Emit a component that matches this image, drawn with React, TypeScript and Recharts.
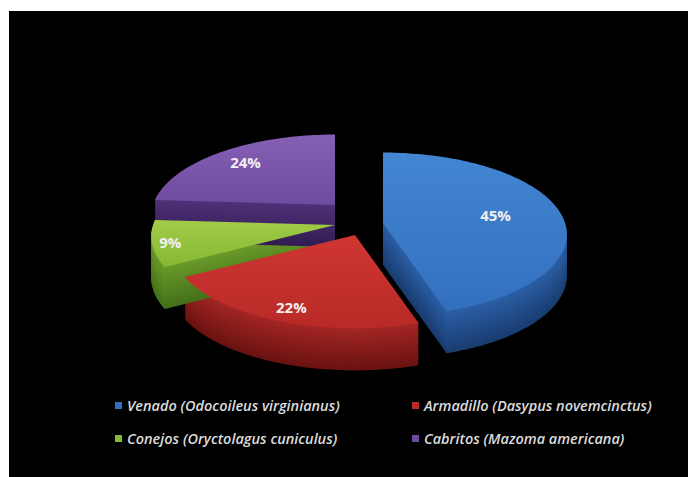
import { Legend, Pie, PieChart } from "recharts";

const species = [
  "Venado (Odocoileus virginianus)",
  "Armadillo (Dasypus novemcinctus)",
  "Conejos (Oryctolagus cuniculus)",
  "Cabritos (Mazoma americana)",
];
const shares = [45, 22, 9, 24];

// colours: top face (light, dark) and wall (top, bottom)
const topLight = ["#4386d2", "#cf3632", "#a2cc47", "#8560b4"];
const topDark = ["#3270bf", "#b82a27", "#85b834", "#6f4b9f"];
const sideTop = ["#2c5fa5", "#a32624", "#6a9a2a", "#4e3178"];
const sideBottom = ["#1a3d70", "#6a1311", "#44701a", "#341c52"];
// how far each slice is pulled out of the pie, in px
const pullX = [48, 20, 0, 0];
const pullY = [8, 20, 10, -10];
const labelFrac = [0.64, 0.84, 0.9, 0.8];

const data = species.map((name, i) => ({ name, value: shares[i] }));

const W = 679;
const H = 466;
const CX = 326;
const CY = 204;
const RX = 182;
const TILT = 0.45;
const PERSP = 0.14;
const DEPTH = 42;
const RAD = Math.PI / 180;

function mix(a: string, b: string, t: number) {
  const pa = [1, 3, 5].map((k) => parseInt(a.slice(k, k + 2), 16));
  const pb = [1, 3, 5].map((k) => parseInt(b.slice(k, k + 2), 16));
  return `rgb(${pa.map((v, k) => Math.round(v + (pb[k] - v) * t)).join(",")})`;
}

function indexOf(p: any) {
  return species.indexOf(p.name ?? p.payload?.name);
}

// point on the tilted disc, front (lower) side drawn a bit larger
function project(ox: number, oy: number, r: number, deg: number, f = 1) {
  const a = deg * RAD;
  const z = -Math.sin(a);
  const s = 1 + PERSP * z;
  return [ox + r * f * Math.cos(a) * s, oy + r * TILT * f * z * s];
}

function facePath(p: any, dy: number) {
  const i = indexOf(p);
  const ox = p.cx + pullX[i];
  const oy = p.cy + pullY[i] + dy;
  const n = Math.max(2, Math.ceil(Math.abs(p.endAngle - p.startAngle)));
  let d = `M${ox},${oy}`;
  for (let k = 0; k <= n; k++) {
    const deg = p.startAngle + ((p.endAngle - p.startAngle) * k) / n;
    const [x, y] = project(ox, oy, p.outerRadius, deg);
    d += `L${x.toFixed(1)},${y.toFixed(1)}`;
  }
  return d + "Z";
}

const WallShape = (p: any) => {
  const i = indexOf(p);
  const parts = [];
  for (let d = DEPTH; d > 0; d -= 1) {
    parts.push(<path key={d} d={facePath(p, d)} fill={mix(sideTop[i], sideBottom[i], d / DEPTH)} />);
  }
  return <g>{parts}</g>;
};

const TopShape = (p: any) => {
  const i = indexOf(p);
  const id = `top-${i}`;
  return (
    <g>
      <defs>
        <linearGradient id={id} x1="0" y1="0" x2="0" y2="1">
          <stop offset="0%" stopColor={topLight[i]} />
          <stop offset="100%" stopColor={topDark[i]} />
        </linearGradient>
      </defs>
      <path d={facePath(p, 0)} fill={`url(#${id})`} />
    </g>
  );
};

const renderLabel = (p: any) => {
  const i = indexOf(p);
  const [x, y] = project(p.cx + pullX[i], p.cy + pullY[i], RX, p.midAngle, labelFrac[i]);
  return (
    <text x={x} y={y} textAnchor="middle" dominantBaseline="central" fill="#f3eef0"
      fontSize={15} fontWeight="bold" fontFamily="Open Sans">
      {`${shares[i]}%`}
    </text>
  );
};

const LegendGrid = () => (
  <div style={{ display: "grid", gridTemplateColumns: "297px 265px", rowGap: 15,
    fontFamily: "Open Sans", fontStyle: "italic", fontWeight: 600, fontSize: 14.5, color: "#dcdcdc" }}>
    {species.map((s, i) => (
      <div key={s} style={{ display: "flex", alignItems: "center", height: 18, whiteSpace: "nowrap" }}>
        <span style={{ width: 7, height: 7, background: topDark[i], marginRight: 5, flex: "none" }} />
        <span>{s}</span>
      </div>
    ))}
  </div>
);

export default function App() {
  return (
    <div style={{ position: "fixed", left: 9, top: 11, width: W, height: H, background: "#000" }}>
      <PieChart width={W} height={H} margin={{ top: 0, right: 0, bottom: 0, left: 0 }}>
        <Pie data={data} dataKey="value" nameKey="name" cx={CX} cy={CY} outerRadius={RX}
          startAngle={90} endAngle={-270} stroke="none" shape={WallShape}
          isAnimationActive={false} legendType="none" />
        <Pie data={data} dataKey="value" nameKey="name" cx={CX} cy={CY} outerRadius={RX}
          startAngle={90} endAngle={-270} stroke="none" shape={TopShape}
          label={renderLabel} labelLine={false} isAnimationActive={false} />
        <Legend content={LegendGrid} wrapperStyle={{ position: "absolute", left: 106, top: 385, width: 570 }} />
      </PieChart>
    </div>
  );
}
